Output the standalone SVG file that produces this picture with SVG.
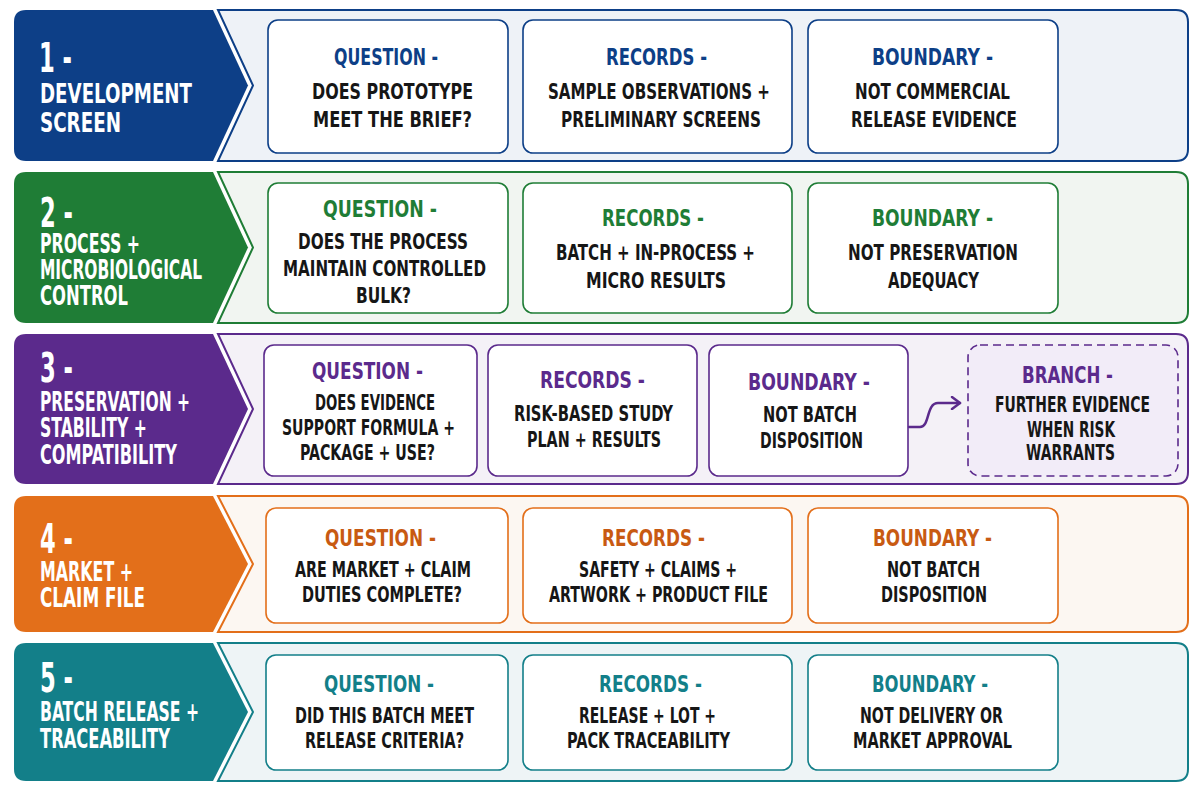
<svg xmlns="http://www.w3.org/2000/svg" width="1200" height="800" viewBox="0 0 1200 800">
<defs>
<style>
text{font-family:"DejaVu Sans Condensed","DejaVu Sans","Liberation Sans",sans-serif;font-weight:bold}
.lab{fill:#fff;font-size:27px}
.num{fill:#fff;font-size:41px}
.h{font-size:23.5px}
.b{fill:#161616;font-size:21.5px}
.card{fill:#fff;stroke-width:1.6}
.pan{stroke-width:2}
.c1{stroke:#0d3f87}.f1{fill:#0d3f87}
.c2{stroke:#1f7d36}.f2{fill:#1f7d36}
.c3{stroke:#5b2a8c}.f3{fill:#5b2a8c}
.c4{stroke:#e36f1a}.f4{fill:#e36f1a}.t4{fill:#c85a12}
.c5{stroke:#137f89}.f5{fill:#137f89}
</style>
<marker id="arr" viewBox="0 0 12 14" refX="10" refY="7" markerWidth="12" markerHeight="14" markerUnits="userSpaceOnUse" orient="auto">
<path d="M2,1 L10,7 L2,13" fill="none" stroke="#5b2a8c" stroke-width="2.5" stroke-linecap="round" stroke-linejoin="round"/>
</marker>
</defs>
<rect width="1200" height="800" fill="#ffffff"/>

<g id="row1">
<path class="pan c1" fill="#eef2f7" d="M218,10 H1176 Q1188,10 1188,22 V149 Q1188,161 1176,161 H218 L253,85.5 Z"/>
<path class="f1" d="M26,10 H213 L248,85.5 L213,161 H26 Q14,161 14,149 V22 Q14,10 26,10 Z"/>
<text class="num" x="39" y="72" textLength="33" lengthAdjust="spacingAndGlyphs">1 -</text>
<text class="lab" x="40" y="103" textLength="152" lengthAdjust="spacingAndGlyphs">DEVELOPMENT</text>
<text class="lab" x="40" y="132" textLength="81" lengthAdjust="spacingAndGlyphs">SCREEN</text>
<g id="r1-question"><rect class="card c1" x="268" y="20" width="240" height="133" rx="10"/>
<text class="h f1" x="334" y="65" textLength="104" lengthAdjust="spacingAndGlyphs">QUESTION -</text>
<text class="b" x="312" y="99" textLength="161" lengthAdjust="spacingAndGlyphs">DOES PROTOTYPE</text>
<text class="b" x="313" y="127" textLength="159" lengthAdjust="spacingAndGlyphs">MEET THE BRIEF?</text></g>
<g id="r1-records"><rect class="card c1" x="523" y="20" width="269" height="133" rx="10"/>
<text class="h f1" x="606" y="65" textLength="101" lengthAdjust="spacingAndGlyphs">RECORDS -</text>
<text class="b" x="548" y="99" textLength="222" lengthAdjust="spacingAndGlyphs">SAMPLE OBSERVATIONS +</text>
<text class="b" x="561" y="127" textLength="200" lengthAdjust="spacingAndGlyphs">PRELIMINARY SCREENS</text></g>
<g id="r1-boundary"><rect class="card c1" x="808" y="20" width="250" height="133" rx="10"/>
<text class="h f1" x="872" y="65" textLength="121" lengthAdjust="spacingAndGlyphs">BOUNDARY -</text>
<text class="b" x="855" y="99" textLength="155" lengthAdjust="spacingAndGlyphs">NOT COMMERCIAL</text>
<text class="b" x="851" y="127" textLength="166" lengthAdjust="spacingAndGlyphs">RELEASE EVIDENCE</text></g>
</g>

<g id="row2">
<path class="pan c2" fill="#f1f5f1" d="M218,172 H1176 Q1188,172 1188,184 V311 Q1188,323 1176,323 H218 L253,247.5 Z"/>
<path class="f2" d="M26,172 H213 L248,247.5 L213,323 H26 Q14,323 14,311 V184 Q14,172 26,172 Z"/>
<text class="num" x="40" y="227" textLength="33" lengthAdjust="spacingAndGlyphs">2 -</text>
<text class="lab" x="40" y="253" textLength="100" lengthAdjust="spacingAndGlyphs">PROCESS +</text>
<text class="lab" x="40" y="279" textLength="162" lengthAdjust="spacingAndGlyphs">MICROBIOLOGICAL</text>
<text class="lab" x="40" y="305" textLength="88" lengthAdjust="spacingAndGlyphs">CONTROL</text>
<g id="r2-question"><rect class="card c2" x="268" y="183" width="240" height="130" rx="10"/>
<text class="h f2" x="323" y="217" textLength="114" lengthAdjust="spacingAndGlyphs">QUESTION -</text>
<text class="b" x="298" y="249" textLength="170" lengthAdjust="spacingAndGlyphs">DOES THE PROCESS</text>
<text class="b" x="283" y="276" textLength="203" lengthAdjust="spacingAndGlyphs">MAINTAIN CONTROLLED</text>
<text class="b" x="356" y="303" textLength="55" lengthAdjust="spacingAndGlyphs">BULK?</text></g>
<g id="r2-records"><rect class="card c2" x="523" y="183" width="269" height="130" rx="10"/>
<text class="h f2" x="602" y="226" textLength="102" lengthAdjust="spacingAndGlyphs">RECORDS -</text>
<text class="b" x="556" y="260" textLength="199" lengthAdjust="spacingAndGlyphs">BATCH + IN-PROCESS +</text>
<text class="b" x="586" y="288" textLength="140" lengthAdjust="spacingAndGlyphs">MICRO RESULTS</text></g>
<g id="r2-boundary"><rect class="card c2" x="808" y="183" width="250" height="130" rx="10"/>
<text class="h f2" x="872" y="226" textLength="121" lengthAdjust="spacingAndGlyphs">BOUNDARY -</text>
<text class="b" x="848" y="260" textLength="170" lengthAdjust="spacingAndGlyphs">NOT PRESERVATION</text>
<text class="b" x="888" y="288" textLength="91" lengthAdjust="spacingAndGlyphs">ADEQUACY</text></g>
</g>

<g id="row3">
<path class="pan c3" fill="#f4f1f7" d="M218,334 H1176 Q1188,334 1188,346 V472 Q1188,484 1176,484 H218 L253,409 Z"/>
<path class="f3" d="M26,334 H213 L248,409 L213,484 H26 Q14,484 14,472 V346 Q14,334 26,334 Z"/>
<text class="num" x="40" y="382" textLength="33" lengthAdjust="spacingAndGlyphs">3 -</text>
<text class="lab" x="40" y="411" textLength="150" lengthAdjust="spacingAndGlyphs">PRESERVATION +</text>
<text class="lab" x="40" y="437" textLength="107" lengthAdjust="spacingAndGlyphs">STABILITY +</text>
<text class="lab" x="40" y="464" textLength="137" lengthAdjust="spacingAndGlyphs">COMPATIBILITY</text>
<g id="r3-question"><rect class="card c3" x="264" y="345" width="213" height="131" rx="10"/>
<text class="h f3" x="312" y="379" textLength="111" lengthAdjust="spacingAndGlyphs">QUESTION -</text>
<text class="b" x="315" y="410" textLength="120" lengthAdjust="spacingAndGlyphs">DOES EVIDENCE</text>
<text class="b" x="282" y="435" textLength="173" lengthAdjust="spacingAndGlyphs">SUPPORT FORMULA +</text>
<text class="b" x="300" y="460" textLength="135" lengthAdjust="spacingAndGlyphs">PACKAGE + USE?</text></g>
<g id="r3-records"><rect class="card c3" x="488" y="345" width="209" height="131" rx="10"/>
<text class="h f3" x="540" y="388" textLength="105" lengthAdjust="spacingAndGlyphs">RECORDS -</text>
<text class="b" x="514" y="421" textLength="159" lengthAdjust="spacingAndGlyphs">RISK-BASED STUDY</text>
<text class="b" x="527" y="447" textLength="134" lengthAdjust="spacingAndGlyphs">PLAN + RESULTS</text></g>
<g id="r3-boundary"><rect class="card c3" x="709" y="345" width="199" height="131" rx="10"/>
<text class="h f3" x="748" y="390" textLength="122" lengthAdjust="spacingAndGlyphs">BOUNDARY -</text>
<text class="b" x="763" y="422" textLength="94" lengthAdjust="spacingAndGlyphs">NOT BATCH</text>
<text class="b" x="760" y="448" textLength="103" lengthAdjust="spacingAndGlyphs">DISPOSITION</text></g>
<g id="r3-branch"><rect x="968" y="345" width="210" height="131" rx="12" fill="#f2ecf8" stroke="#5b2a8c" stroke-width="1.6" stroke-dasharray="8,5"/>
<text class="h f3" x="1022" y="383" textLength="91" lengthAdjust="spacingAndGlyphs">BRANCH -</text>
<text class="b" x="995" y="412" textLength="155" lengthAdjust="spacingAndGlyphs">FURTHER EVIDENCE</text>
<text class="b" x="1027" y="437" textLength="88" lengthAdjust="spacingAndGlyphs">WHEN RISK</text>
<text class="b" x="1026" y="460" textLength="89" lengthAdjust="spacingAndGlyphs">WARRANTS</text></g>
</g>

<g id="row4">
<path class="pan c4" fill="#fcf7f2" d="M218,496 H1176 Q1188,496 1188,508 V620 Q1188,632 1176,632 H218 L253,564 Z"/>
<path class="f4" d="M26,496 H213 L248,564 L213,632 H26 Q14,632 14,620 V508 Q14,496 26,496 Z"/>
<text class="num" x="40" y="553" textLength="33" lengthAdjust="spacingAndGlyphs">4 -</text>
<text class="lab" x="40" y="581" textLength="93" lengthAdjust="spacingAndGlyphs">MARKET +</text>
<text class="lab" x="40" y="607" textLength="105" lengthAdjust="spacingAndGlyphs">CLAIM FILE</text>
<g id="r4-question"><rect class="card c4" x="266" y="508" width="242" height="115" rx="10"/>
<text class="h t4" x="325" y="546" textLength="111" lengthAdjust="spacingAndGlyphs">QUESTION -</text>
<text class="b" x="295" y="577" textLength="176" lengthAdjust="spacingAndGlyphs">ARE MARKET + CLAIM</text>
<text class="b" x="302" y="602" textLength="160" lengthAdjust="spacingAndGlyphs">DUTIES COMPLETE?</text></g>
<g id="r4-records"><rect class="card c4" x="523" y="508" width="269" height="115" rx="10"/>
<text class="h t4" x="602" y="546" textLength="103" lengthAdjust="spacingAndGlyphs">RECORDS -</text>
<text class="b" x="579" y="577" textLength="158" lengthAdjust="spacingAndGlyphs">SAFETY + CLAIMS +</text>
<text class="b" x="549" y="602" textLength="219" lengthAdjust="spacingAndGlyphs">ARTWORK + PRODUCT FILE</text></g>
<g id="r4-boundary"><rect class="card c4" x="808" y="508" width="250" height="115" rx="10"/>
<text class="h t4" x="873" y="546" textLength="119" lengthAdjust="spacingAndGlyphs">BOUNDARY -</text>
<text class="b" x="887" y="577" textLength="93" lengthAdjust="spacingAndGlyphs">NOT BATCH</text>
<text class="b" x="881" y="602" textLength="106" lengthAdjust="spacingAndGlyphs">DISPOSITION</text></g>
</g>

<g id="row5">
<path class="pan c5" fill="#eef4f6" d="M218,643 H1176 Q1188,643 1188,655 V769 Q1188,781 1176,781 H218 L253,712 Z"/>
<path class="f5" d="M26,643 H213 L248,712 L213,781 H26 Q14,781 14,769 V655 Q14,643 26,643 Z"/>
<text class="num" x="40" y="692" textLength="33" lengthAdjust="spacingAndGlyphs">5 -</text>
<text class="lab" x="40" y="721" textLength="159" lengthAdjust="spacingAndGlyphs">BATCH RELEASE +</text>
<text class="lab" x="40" y="748" textLength="130" lengthAdjust="spacingAndGlyphs">TRACEABILITY</text>
<g id="r5-question"><rect class="card c5" x="266" y="655" width="242" height="115" rx="10"/>
<text class="h f5" x="324" y="692" textLength="110" lengthAdjust="spacingAndGlyphs">QUESTION -</text>
<text class="b" x="295" y="723" textLength="179" lengthAdjust="spacingAndGlyphs">DID THIS BATCH MEET</text>
<text class="b" x="305" y="748" textLength="159" lengthAdjust="spacingAndGlyphs">RELEASE CRITERIA?</text></g>
<g id="r5-records"><rect class="card c5" x="523" y="655" width="269" height="115" rx="10"/>
<text class="h f5" x="599" y="692" textLength="103" lengthAdjust="spacingAndGlyphs">RECORDS -</text>
<text class="b" x="579" y="723" textLength="137" lengthAdjust="spacingAndGlyphs">RELEASE + LOT +</text>
<text class="b" x="567" y="748" textLength="163" lengthAdjust="spacingAndGlyphs">PACK TRACEABILITY</text></g>
<g id="r5-boundary"><rect class="card c5" x="808" y="655" width="250" height="115" rx="10"/>
<text class="h f5" x="872" y="692" textLength="116" lengthAdjust="spacingAndGlyphs">BOUNDARY -</text>
<text class="b" x="860" y="723" textLength="143" lengthAdjust="spacingAndGlyphs">NOT DELIVERY OR</text>
<text class="b" x="853" y="748" textLength="159" lengthAdjust="spacingAndGlyphs">MARKET APPROVAL</text></g>
</g>

<g id="connectors">
<path d="M909,427 H920 C930,427 926,403 938,403 H960" fill="none" stroke="#5b2a8c" stroke-width="2.5" stroke-linecap="round" marker-end="url(#arr)"/>
</g>
</svg>
